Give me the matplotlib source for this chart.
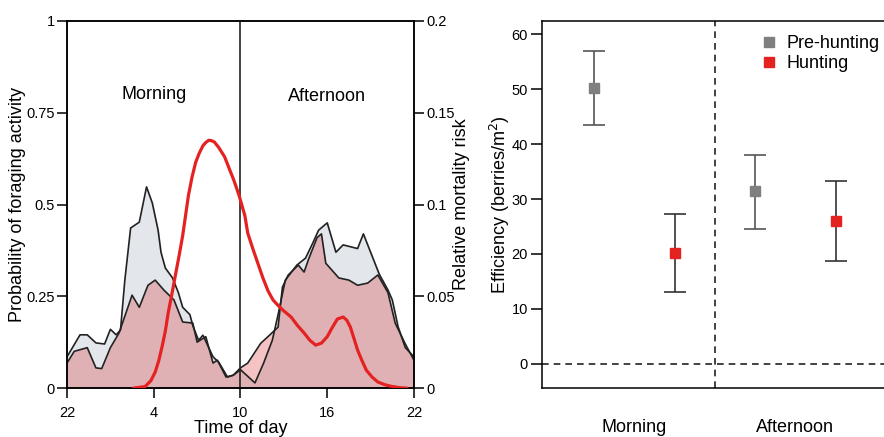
import matplotlib
matplotlib.use("Agg")
import matplotlib.pyplot as plt
import numpy as np

plt.rcParams['font.family'] = ['Liberation Sans', 'DejaVu Sans']

# ---- left panel data (hours since 22:00) ----
grey_h = [0.0, 0.9, 1.4, 2.0, 2.6, 3.0, 3.4, 3.7, 4.0, 4.4, 5.0, 5.5, 5.9, 6.3, 6.5, 6.8,
          7.3, 7.7, 8.0, 8.5, 8.7, 9.1, 9.4, 10.1, 10.5, 11.1, 11.5, 12.0,
          13.0, 13.6, 14.2, 14.6, 15.1, 15.9, 16.5, 17.0, 17.4, 18.0, 18.6, 19.1,
          20.1, 20.5, 21.6, 22.2, 22.5, 22.9, 23.4, 24.0]
grey_v = [0.085, 0.145, 0.145, 0.123, 0.12, 0.16, 0.145, 0.158, 0.294, 0.436, 0.452, 0.548, 0.504, 0.43, 0.37, 0.327,
          0.30, 0.26, 0.22, 0.20, 0.17, 0.13, 0.144, 0.085, 0.07, 0.03, 0.035, 0.05,
          0.014, 0.068, 0.13, 0.20, 0.294, 0.335, 0.354, 0.395, 0.43, 0.45, 0.37, 0.39,
          0.38, 0.42, 0.31, 0.267, 0.24, 0.167, 0.11, 0.085]

pink_h = [0.0, 0.5, 1.4, 2.0, 2.4, 3.0, 3.6, 4.5, 5.0, 5.6, 6.1, 6.7, 7.4, 8.0, 8.7, 9.0, 9.6,
          10.1, 10.4, 11.0, 11.5, 12.0, 12.5, 13.4, 13.9, 14.6, 14.9, 15.3, 16.0, 16.4, 16.7,
          17.3, 17.6, 17.9, 18.8, 19.5, 20.1, 20.8, 21.5, 22.2, 22.7, 23.4, 24.0]
pink_v = [0.068, 0.10, 0.11, 0.055, 0.053, 0.11, 0.15, 0.253, 0.22, 0.28, 0.294, 0.267, 0.24, 0.18, 0.177, 0.125, 0.14,
          0.068, 0.076, 0.03, 0.035, 0.055, 0.068, 0.122, 0.14, 0.166, 0.275, 0.308, 0.335, 0.316, 0.35,
          0.41, 0.42, 0.34, 0.30, 0.294, 0.28, 0.286, 0.308, 0.26, 0.177, 0.12, 0.076]

risk_h = [4.6, 5.4, 5.8, 6.1, 6.35, 6.6, 6.8, 7.0, 7.25, 7.5, 7.75, 8.0, 8.2, 8.4, 8.65, 8.9, 9.15,
          9.4, 9.6, 9.8, 10.0, 10.2, 10.5, 10.9, 11.2, 11.55, 11.9, 12.3, 12.5, 12.85, 13.2, 13.55,
          13.9, 14.25, 14.6, 15.0, 15.5, 15.95, 16.4, 16.8, 17.2, 17.6, 18.0, 18.35, 18.7, 19.1,
          19.35, 19.6, 19.85, 20.1, 20.4, 20.7, 21.1, 21.5, 22.0, 22.4, 23.0, 23.5]
risk_v = [0.0, 0.0008, 0.004, 0.0087, 0.015, 0.0234, 0.031, 0.041, 0.051, 0.0616, 0.072, 0.083, 0.094, 0.105, 0.115,
          0.123, 0.128, 0.132, 0.1338, 0.135, 0.1348, 0.134, 0.131, 0.126, 0.120, 0.113, 0.105, 0.094, 0.0845,
          0.076, 0.068, 0.060, 0.053, 0.048, 0.045, 0.042, 0.0387, 0.034, 0.030, 0.026, 0.0234, 0.0245,
          0.028, 0.033, 0.0376, 0.0387, 0.037, 0.0332, 0.027, 0.0207, 0.015, 0.0098, 0.006, 0.0033,
          0.0018, 0.001, 0.0002, 0.0]

time_ticks = [0, 6, 12, 18, 24]
time_labels = ['22', '4', '10', '16', '22']

# ---- right panel data ----
periods = ['Morning', 'Afternoon']
pre_mean = [50.2, 31.4]
pre_lo = [43.5, 24.6]
pre_hi = [57.0, 38.0]
hunt_mean = [20.1, 26.0]
hunt_lo = [13.0, 18.7]
hunt_hi = [27.3, 33.2]

fig = plt.figure(figsize=(8.84, 4.37), dpi=100)

# left panel
ax = fig.add_axes([0.0758, 0.112, 0.3925, 0.840])
ax.fill_between(grey_h, grey_v, 0, color='#e3e6ea', zorder=1)
ax.fill_between(pink_h, pink_v, 0, color='#d91a1a', alpha=0.26, linewidth=0, zorder=2)
ax.plot(grey_h, grey_v, color='#222222', lw=1.2, zorder=3)
ax.plot(pink_h, pink_v, color='#222222', lw=1.2, zorder=3)
ax.axvline(12, color='#222222', lw=1.2, zorder=3)
ax.set_xlim(0, 24)
ax.set_ylim(0, 1)
ax.set_xticks(time_ticks)
ax.set_xticklabels(time_labels)
ax.set_yticks([0, 0.25, 0.5, 0.75, 1])
ax.set_yticklabels(['0', '0.25', '0.5', '0.75', '1'])
ax.tick_params(labelsize=10.5, length=7, width=1.1, pad=2)
ax.tick_params(axis='x', pad=6)
ax.set_xlabel('Time of day', fontsize=13, labelpad=0)
ax.set_ylabel('Probability of foraging activity', fontsize=13)
ax.yaxis.set_label_coords(-0.118, 0.5)
ax.text(6, 0.80, 'Morning', ha='center', va='center', fontsize=13)
ax.text(18, 0.795, 'Afternoon', ha='center', va='center', fontsize=13)
for s in ax.spines.values():
    s.set_linewidth(1.1)

ax2 = ax.twinx()
ax2.plot(risk_h, risk_v, color='#e52222', lw=2.3, zorder=4,
         solid_joinstyle='round', solid_capstyle='round')
ax2.set_ylim(0, 0.2)
ax2.set_yticks([0, 0.05, 0.1, 0.15, 0.2])
ax2.set_yticklabels(['0', '0.05', '0.1', '0.15', '0.2'])
ax2.tick_params(labelsize=10.5, length=7, width=1.1, pad=2)
ax2.set_ylabel('Relative mortality risk', fontsize=13)
ax2.yaxis.set_label_coords(1.112, 0.5)
for s in ax2.spines.values():
    s.set_linewidth(1.1)

# right panel
bx = fig.add_axes([0.613, 0.112, 0.3914, 0.840])
pre_x = [1, 3]
hunt_x = [2, 4]
pre_err = [np.array(pre_mean) - np.array(pre_lo), np.array(pre_hi) - np.array(pre_mean)]
hunt_err = [np.array(hunt_mean) - np.array(hunt_lo), np.array(hunt_hi) - np.array(hunt_mean)]
bx.errorbar(pre_x, pre_mean, yerr=pre_err, fmt='none', ecolor='#555555', elinewidth=1.2,
            capsize=8, capthick=1.2)
bx.errorbar(hunt_x, hunt_mean, yerr=hunt_err, fmt='none', ecolor='#333333', elinewidth=1.2,
            capsize=8, capthick=1.2)
bx.plot(pre_x, pre_mean, 's', color='#7f7f7f', ms=6.5, label='Pre-hunting', zorder=5)
bx.plot(hunt_x, hunt_mean, 's', color='#e52222', ms=6.5, label='Hunting', zorder=5)
bx.axhline(0, color='#222222', lw=1.2, ls=(0, (4, 3)))
bx.axvline(2.5, color='#222222', lw=1.2, ls=(0, (4, 3)))
bx.set_xlim(0.35, 4.65)
bx.set_ylim(-4.4, 62.4)
bx.set_yticks([0, 10, 20, 30, 40, 50, 60])
bx.set_xticks([1.5, 3.5])
bx.set_xticklabels(periods)
bx.tick_params(axis='y', labelsize=10.5, length=8, width=1.1, pad=2)
bx.tick_params(axis='x', labelsize=13, length=0, pad=22)
bx.set_ylabel('Efficiency (berries/m$^2$)', fontsize=13)
bx.yaxis.set_label_coords(-0.086, 0.5)
bx.legend(loc='upper left', bbox_to_anchor=(0.595, 1.0), frameon=False, fontsize=13,
          handlelength=0.8, handletextpad=0.55, borderpad=0.3, labelspacing=0.15)
for s in bx.spines.values():
    s.set_linewidth(1.1)

fig.savefig('out.png', dpi=100)
